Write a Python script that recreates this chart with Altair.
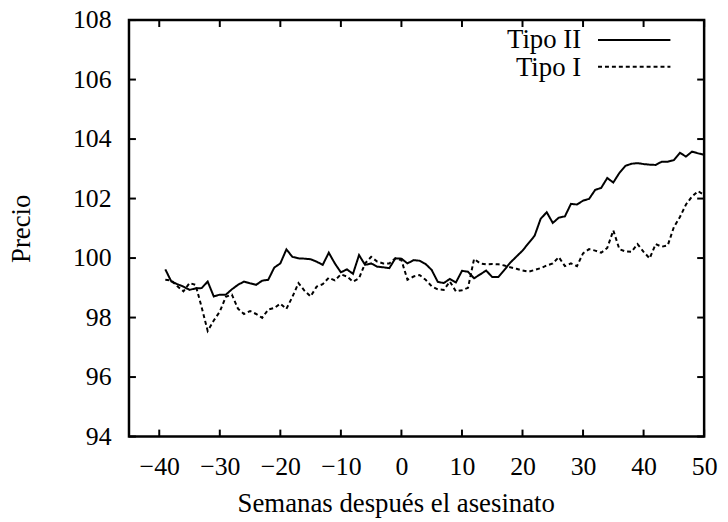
import altair as alt
import pandas as pd

weeks = list(range(-39, 51))

tipo_ii = [
    99.62, 99.21, 99.12, 99.04, 98.93, 98.98, 98.99, 99.21, 98.71, 98.77,
    98.77, 98.95, 99.10, 99.21, 99.15, 99.10, 99.24, 99.27, 99.68, 99.82,
    100.29, 100.04, 99.99, 99.98, 99.96, 99.88, 99.77, 100.18, 99.82, 99.52,
    99.62, 99.47, 100.10, 99.77, 99.82, 99.71, 99.69, 99.66, 99.99,
    99.98, 99.82, 99.93, 99.91, 99.80, 99.60, 99.20, 99.16, 99.30, 99.18,
    99.57, 99.54, 99.32, 99.45, 99.58, 99.36, 99.36, 99.60, 99.85, 100.05,
    100.25, 100.50, 100.75, 101.32, 101.54, 101.18, 101.36, 101.40, 101.82, 101.80,
    101.93, 101.99, 102.29, 102.36, 102.69, 102.54, 102.86, 103.10, 103.17, 103.19,
    103.16, 103.14, 103.13, 103.24, 103.24, 103.29, 103.54, 103.41, 103.58, 103.52,
    103.47,
]

tipo_i = [
    99.27, 99.25, 99.05, 98.88, 99.16, 99.10, 98.35, 97.55, 97.90, 98.20,
    98.70, 98.77, 98.30, 98.12, 98.22, 98.12, 97.99, 98.27, 98.32, 98.47,
    98.29, 98.70, 99.16, 98.90, 98.71, 99.04, 99.12, 99.34, 99.25, 99.45,
    99.38, 99.21, 99.32, 99.82, 100.04, 99.88, 99.82, 99.82, 99.99,
    99.93, 99.27, 99.38, 99.43, 99.27, 99.05, 98.95, 98.93, 99.21, 98.88,
    98.92, 99.00, 99.97, 99.82, 99.79, 99.80, 99.79, 99.75, 99.69, 99.64,
    99.58, 99.54, 99.60, 99.66, 99.75, 99.82, 100.03, 99.73, 99.82, 99.73,
    100.16, 100.30, 100.25, 100.18, 100.34, 100.93, 100.30, 100.22, 100.21, 100.47,
    100.21, 99.99, 100.47, 100.38, 100.43, 101.04, 101.38, 101.80, 102.07, 102.25,
    102.12,
]

series_names = ["Tipo II", "Tipo I"]
x_ticks = [-40, -30, -20, -10, 0, 10, 20, 30, 40, 50]
y_ticks = [94, 96, 98, 100, 102, 104, 106, 108]
x_domain = [-45, 50]
y_domain = [94, 108]

W, H = 580, 420
FONT = "Liberation Serif"
TL = 7  # inward tick length (px)
DASH = [4, 3]

df = pd.DataFrame({
    "Semana": weeks * 2,
    "Precio": tipo_ii + tipo_i,
    "Serie": [series_names[0]] * len(weeks) + [series_names[1]] * len(weeks),
})

x_scale = alt.Scale(domain=x_domain, nice=False, zero=False)
y_scale = alt.Scale(domain=y_domain, nice=False, zero=False)

x_axis = alt.Axis(
    values=x_ticks, title="Semanas después el asesinato",
    labelPadding=38, labelBaseline="alphabetic",
    titleX=269, titleY=76, titleBaseline="alphabetic", titleAlign="center",
)
y_axis = alt.Axis(
    values=y_ticks, title="Precio",
    labelPadding=18, labelBaseline="middle",
    titleX=-100, titleY=210, titleAngle=270, titleBaseline="alphabetic", titleAlign="center",
)

dash_scale = alt.Scale(domain=series_names, range=[[1, 0], DASH])

lines = alt.Chart(df).mark_line(strokeWidth=2, color="black").encode(
    x=alt.X("Semana:Q", scale=x_scale, axis=x_axis),
    y=alt.Y("Precio:Q", scale=y_scale, axis=y_axis),
    strokeDash=alt.StrokeDash("Serie:N", scale=dash_scale, legend=None),
    detail="Serie:N",
)

xt = pd.DataFrame({"t": x_ticks})
yt = pd.DataFrame({"t": y_ticks})
tick_style = dict(color="black", strokeWidth=2)

bottom_ticks = alt.Chart(xt).mark_rule(**tick_style).encode(
    x=alt.X("t:Q", scale=x_scale, axis=x_axis), y=alt.value(H), y2=alt.value(H - TL))
top_ticks = alt.Chart(xt).mark_rule(**tick_style).encode(
    x=alt.X("t:Q", scale=x_scale, axis=x_axis), y=alt.value(0), y2=alt.value(TL))
left_ticks = alt.Chart(yt).mark_rule(**tick_style).encode(
    y=alt.Y("t:Q", scale=y_scale, axis=y_axis), x=alt.value(0), x2=alt.value(TL))
right_ticks = alt.Chart(yt).mark_rule(**tick_style).encode(
    y=alt.Y("t:Q", scale=y_scale, axis=y_axis), x=alt.value(W - TL), x2=alt.value(W))

legend_layers = []
legend_text_y = [28, 56]
legend_line_y = [20, 47]
for i, name in enumerate(series_names):
    d = pd.DataFrame({"Serie": [name]})
    legend_layers.append(
        alt.Chart(d).mark_text(
            font=FONT, fontSize=27, align="right", baseline="alphabetic", color="black"
        ).encode(text="Serie:N", x=alt.value(456), y=alt.value(legend_text_y[i]))
    )
    legend_layers.append(
        alt.Chart(d).mark_rule(
            strokeWidth=2, color="black",
            strokeDash=[1, 0] if i == 0 else DASH,
        ).encode(x=alt.value(473), x2=alt.value(546), y=alt.value(legend_line_y[i]))
    )

chart = alt.layer(
    lines, bottom_ticks, top_ticks, left_ticks, right_ticks, *legend_layers
).properties(
    width=W, height=H,
    background="white",
    padding={"left": 122, "top": 10, "right": 16, "bottom": 84},
    autosize=alt.AutoSizeParams(type="none"),
).configure_axis(
    ticks=False, tickSize=0, domain=False, grid=False,
    labelFont=FONT, labelFontSize=26, labelColor="black", labelFlush=False,
    titleFont=FONT, titleFontSize=27, titleFontWeight="normal", titleColor="black",
).configure_view(
    stroke="black", strokeWidth=2.5
)

chart.save("out.html", embed_options={"renderer": "svg", "actions": False})
